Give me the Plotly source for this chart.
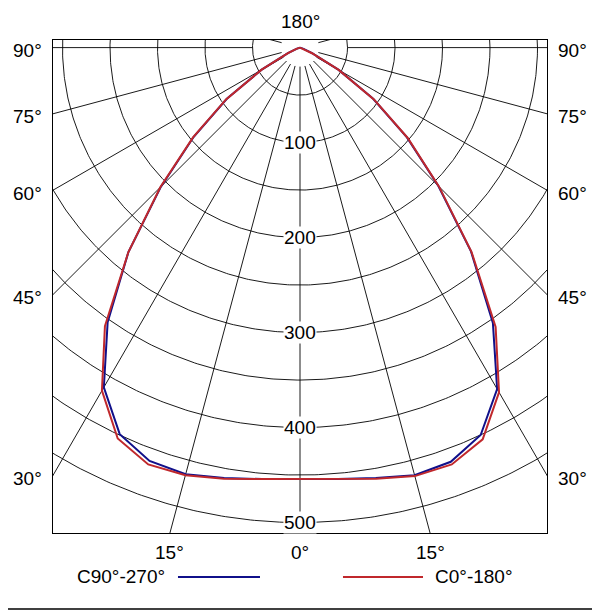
## Light distribution curve (polar photometric diagram) rebuilt with plotly
import numpy as np
import plotly.graph_objects as go

## Data - luminous intensity [cd] vs gamma angle, per C-plane
gamma = [0, 5, 10, 15, 20, 25, 30, 35, 40, 45, 50, 55, 60, 65, 70, 75, 80, 85, 90]
c0 = [454, 456, 461, 467, 467, 455, 419, 359, 281, 207, 148, 95, 47, 14, 4, 1, 0, 0, 0]
c180 = [454, 456, 461, 466, 467, 454, 417, 358, 281, 208, 147, 95, 47, 14, 4, 1, 0, 0, 0]
c90 = [454, 456, 460, 466, 464, 450, 415, 354, 280, 206, 147, 94, 47, 14, 4, 1, 0, 0, 0]
c270 = [454, 456, 460, 465, 463, 449, 413, 353, 281, 207, 146, 94, 47, 14, 4, 1, 0, 0, 0]

ring_labels = [100, 200, 300, 400, 500]
side_labels = [90, 75, 60, 45, 30]
bottom_labels = [-15, 0, 15]
top_label = "180°"
legend_names = ["C90°-270°", "C0°-180°"]

## Style
BLUE = "#10108a"
RED = "#c0282c"
FONT = "Liberation Sans, Arial, sans-serif"
FS = 19
X_LIM = 260          # cd, half width of the frame
Y_TOP = 8            # cd above the centre
Y_BOT = -511         # cd below the centre


def curve_xy(left, right):
    # left half plane (C180 / C270) mirrored, right half (C0 / C90) as is
    g = np.radians(gamma)
    l = np.array(left, dtype=float)
    r = np.array(right, dtype=float)
    x = np.concatenate([-(l * np.sin(g))[::-1], (r * np.sin(g))[1:]])
    y = np.concatenate([-(l * np.cos(g))[::-1], -(r * np.cos(g))[1:]])
    return x, y


def px(xd):
    # data x -> paper x
    return (xd + X_LIM) / (2 * X_LIM)


def py(yd):
    # data y -> paper y
    return (yd - Y_BOT) / (Y_TOP - Y_BOT)


def label(x, y, text, **kw):
    d = dict(xref="paper", yref="paper", x=x, y=y, text=text, showarrow=False,
             xanchor="center", yanchor="middle", font=dict(size=FS))
    d.update(kw)
    return d


fig = go.Figure()

## Grid: circles every 50 cd
t = np.linspace(0, 2 * np.pi, 721)
gx, gy = [], []
for rr in range(50, 501, 50):
    gx += list(rr * np.cos(t)) + [None]
    gy += list(rr * np.sin(t)) + [None]
# radial lines every 15 deg
for a in range(0, 360, 15):
    r0 = 50 if a % 180 == 90 else 20
    ar = np.radians(a)
    gx += [r0 * np.sin(ar), 700 * np.sin(ar), None]
    gy += [-r0 * np.cos(ar), -700 * np.cos(ar), None]
fig.add_trace(go.Scatter(x=gx, y=gy, mode="lines", line=dict(color="black", width=0.9),
                         hoverinfo="skip", showlegend=False))

## Curves
bx, by = curve_xy(c270, c90)
rx, ry = curve_xy(c180, c0)
fig.add_trace(go.Scatter(x=bx, y=by, mode="lines", line=dict(color=BLUE, width=2),
                         name=legend_names[0], showlegend=False))
fig.add_trace(go.Scatter(x=rx, y=ry, mode="lines", line=dict(color=RED, width=2),
                         name=legend_names[1], showlegend=False))

## Labels
ann = []
for v in ring_labels:
    ann.append(dict(x=0, y=-v, text=str(v), showarrow=False, bgcolor="white", borderpad=0,
                    xanchor="center", yanchor="middle", font=dict(size=FS)))
for a in side_labels:
    yy = py(-X_LIM / np.tan(np.radians(a)) - 3)
    ann.append(label(-0.051, yy, f"{a}°"))
    ann.append(label(1.051, yy, f"{a}°"))
for a in bottom_labels:
    ann.append(label(px(-Y_BOT * np.tan(np.radians(a))), py(-532), f"{abs(a)}°"))
ann.append(label(0.5, py(27), top_label))

# legend, drawn by hand below the frame
ann.append(label(0.231, -0.089, legend_names[0], xanchor="right"))
ann.append(label(0.769, -0.089, legend_names[1], xanchor="left"))
shapes = [
    dict(type="line", xref="paper", yref="paper", x0=0.253, x1=0.419, y0=-0.089, y1=-0.089,
         line=dict(color=BLUE, width=2)),
    dict(type="line", xref="paper", yref="paper", x0=0.587, x1=0.749, y0=-0.089, y1=-0.089,
         line=dict(color=RED, width=2)),
    dict(type="line", xref="paper", yref="paper", x0=-0.11, x1=1.11, y0=-0.154, y1=-0.154,
         line=dict(color="black", width=1.5)),
]

# page body adds an 8 px offset, so margins are shifted to keep the frame in place
fig.update_layout(width=600, height=611, autosize=False,
                  margin=dict(l=45, r=61, t=32, b=86),
                  plot_bgcolor="white", paper_bgcolor="white",
                  font=dict(family=FONT, size=FS, color="black"),
                  annotations=ann, shapes=shapes, showlegend=False)
fig.update_xaxes(range=[-X_LIM, X_LIM], showgrid=False, zeroline=False, showticklabels=False,
                 ticks="", showline=True, mirror=True, linecolor="black", linewidth=1)
fig.update_yaxes(range=[Y_BOT, Y_TOP], showgrid=False, zeroline=False, showticklabels=False,
                 ticks="", showline=True, mirror=True, linecolor="black", linewidth=1)

fig.write_html("out.html")
